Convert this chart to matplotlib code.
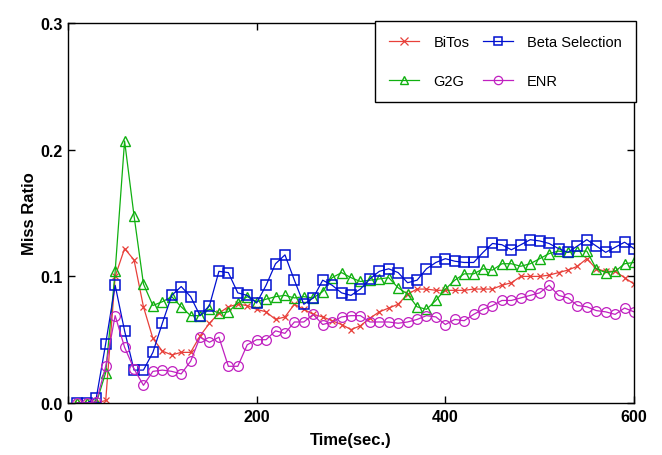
import matplotlib
matplotlib.use("Agg")
import matplotlib.pyplot as plt
import numpy as np

time = list(range(10, 610, 10))

bitos = [0, 0, 0, 0.002, 0.100, 0.122, 0.113, 0.076, 0.051, 0.041,
         0.038, 0.040, 0.040, 0.053, 0.063, 0.071, 0.076, 0.078, 0.077, 0.074,
         0.072, 0.066, 0.068, 0.078, 0.074, 0.070, 0.068, 0.065, 0.062, 0.058,
         0.061, 0.067, 0.072, 0.075, 0.078, 0.086, 0.090, 0.090, 0.089, 0.089,
         0.089, 0.089, 0.090, 0.090, 0.090, 0.093, 0.095, 0.100, 0.100, 0.100,
         0.101, 0.103, 0.105, 0.108, 0.114, 0.106, 0.104, 0.104, 0.099, 0.094]

g2g = [0, 0, 0, 0.024, 0.104, 0.207, 0.148, 0.094, 0.077, 0.080,
       0.084, 0.076, 0.069, 0.069, 0.074, 0.071, 0.072, 0.079, 0.084, 0.080,
       0.082, 0.084, 0.085, 0.083, 0.084, 0.083, 0.088, 0.099, 0.103, 0.099,
       0.096, 0.097, 0.098, 0.099, 0.091, 0.086, 0.076, 0.074, 0.081, 0.090,
       0.097, 0.102, 0.102, 0.106, 0.105, 0.110, 0.110, 0.108, 0.110, 0.114,
       0.118, 0.120, 0.119, 0.120, 0.120, 0.106, 0.103, 0.104, 0.110, 0.111]

beta = [0, 0, 0.004, 0.047, 0.093, 0.057, 0.026, 0.026, 0.040, 0.063,
        0.085, 0.092, 0.084, 0.069, 0.077, 0.104, 0.103, 0.087, 0.085, 0.079,
        0.093, 0.110, 0.117, 0.097, 0.078, 0.083, 0.097, 0.093, 0.087, 0.085,
        0.090, 0.098, 0.104, 0.106, 0.103, 0.095, 0.097, 0.106, 0.111, 0.114,
        0.112, 0.111, 0.111, 0.119, 0.126, 0.125, 0.121, 0.125, 0.129, 0.128,
        0.126, 0.122, 0.119, 0.124, 0.129, 0.124, 0.119, 0.123, 0.127, 0.122]

enr = [0, 0, 0.001, 0.029, 0.069, 0.044, 0.027, 0.014, 0.025, 0.026,
       0.025, 0.023, 0.033, 0.052, 0.048, 0.052, 0.029, 0.029, 0.046, 0.050,
       0.050, 0.057, 0.055, 0.064, 0.064, 0.070, 0.062, 0.064, 0.068, 0.069,
       0.069, 0.064, 0.064, 0.064, 0.063, 0.064, 0.066, 0.069, 0.068, 0.062,
       0.066, 0.065, 0.070, 0.074, 0.077, 0.081, 0.081, 0.083, 0.085, 0.087,
       0.093, 0.085, 0.083, 0.077, 0.076, 0.073, 0.072, 0.070, 0.075, 0.072]

x_ticks = [0, 200, 400, 600]
y_ticks = [0.0, 0.1, 0.2, 0.3]

plt.rcParams['font.family'] = ['Liberation Sans', 'DejaVu Sans']

fig = plt.figure(figsize=(6.62, 4.56), dpi=100)
ax = fig.add_axes([0.1027, 0.114, 0.855, 0.833])

red = '#e8403a'
green = '#10b010'
blue = '#0010d0'
mag = '#c020c0'

h1, = ax.plot(time, bitos, color=red, marker='x', ms=4.5, mew=0.9, lw=0.9, label='BiTos')
h2, = ax.plot(time, g2g, color=green, marker='^', ms=7.5, mfc='none', mew=1.0, lw=0.9, label='G2G')
h3, = ax.plot(time, beta, color=blue, marker='s', ms=7.2, mfc='none', mew=1.1, lw=0.9, label='Beta Selection')
h4, = ax.plot(time, enr, color=mag, marker='o', ms=7, mfc='none', mew=0.9, lw=0.9, label='ENR')

ax.set_xlim(0, 600)
ax.set_ylim(0, 0.3)
ax.set_xticks(x_ticks)
ax.set_yticks(y_ticks)
ax.set_xticklabels([str(t) for t in x_ticks], fontsize=11.5, fontweight='bold')
ax.set_yticklabels(['%.1f' % t for t in y_ticks], fontsize=11.5, fontweight='bold')
ax.tick_params(direction='in', top=True, right=True, length=5, width=1, pad=4)
for s in ax.spines.values():
    s.set_linewidth(1.0)
    s.set_color('black')

ax.set_xlabel('Time(sec.)', fontsize=12, fontweight='bold', labelpad=6)
ax.set_ylabel('Miss Ratio', fontsize=12, fontweight='bold', labelpad=2)

leg = ax.legend(handles=[h1, h2, h3, h4], ncol=2, loc='upper right',
                bbox_to_anchor=(1.003, 1.005), borderaxespad=0, fontsize=10.5,
                fancybox=False, framealpha=1, edgecolor='black',
                labelspacing=1.7, handlelength=2.05, columnspacing=0.9,
                handletextpad=1.0, borderpad=0.95)
leg.get_frame().set_linewidth(1.0)
for lh in leg.legend_handles:
    lh.set_markersize(6)

fig.savefig('out.png', dpi=100)
